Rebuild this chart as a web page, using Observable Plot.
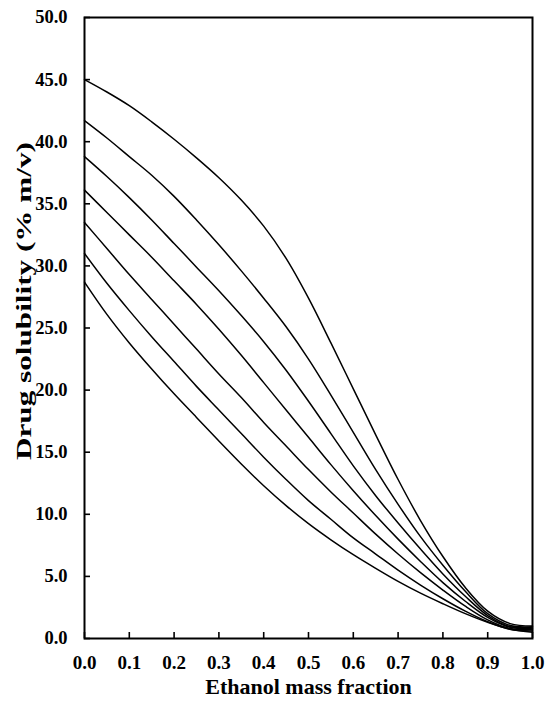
<!DOCTYPE html>
<html>
<head>
<meta charset="utf-8">
<script src="https://cdn.jsdelivr.net/npm/d3@7"></script>
<script src="https://cdn.jsdelivr.net/npm/@observablehq/plot@0.6"></script>
<style>
  html, body { margin: 0; padding: 0; background: #fff; }
  svg, svg text { font-family: "Liberation Serif", "Times New Roman", serif !important; }
</style>
</head>
<body>
<div id="chart"></div>
<script>
const ethanolFraction = [0, 0.05, 0.1, 0.15, 0.2, 0.25, 0.3, 0.35, 0.4, 0.45, 0.5, 0.55, 0.6, 0.65, 0.7, 0.75, 0.8, 0.85, 0.9, 0.95, 1.0];

const curve1 = [45.0, 44.0, 42.9, 41.6, 40.2, 38.7, 37.1, 35.3, 33.2, 30.6, 27.4, 23.8, 20.1, 16.4, 12.8, 9.5, 6.6, 4.1, 2.2, 1.2, 1.0];
const curve2 = [41.7, 40.3, 38.8, 37.3, 35.6, 33.7, 31.7, 29.6, 27.4, 25.1, 22.5, 19.6, 16.6, 13.6, 10.8, 8.2, 5.9, 3.8, 2.0, 1.05, 0.95];
const curve3 = [38.8, 37.2, 35.5, 33.7, 31.8, 29.9, 28.0, 26.0, 23.9, 21.6, 19.1, 16.5, 13.9, 11.5, 9.3, 7.2, 5.2, 3.4, 1.85, 0.95, 0.9];
const curve4 = [36.1, 34.3, 32.5, 30.7, 28.8, 26.9, 24.9, 22.8, 20.6, 18.4, 16.2, 14.0, 11.9, 9.9, 8.0, 6.2, 4.5, 3.0, 1.7, 0.9, 0.8];
const curve5 = [33.5, 31.4, 29.3, 27.3, 25.3, 23.3, 21.3, 19.4, 17.4, 15.5, 13.6, 11.8, 10.1, 8.4, 6.8, 5.3, 3.9, 2.6, 1.5, 0.8, 0.7];
const curve6 = [31.0, 28.6, 26.4, 24.3, 22.3, 20.3, 18.4, 16.5, 14.6, 12.8, 11.1, 9.6, 8.1, 6.8, 5.5, 4.3, 3.2, 2.2, 1.35, 0.75, 0.6];
const curve7 = [28.7, 26.1, 23.8, 21.7, 19.7, 17.8, 15.9, 14.05, 12.3, 10.7, 9.25, 7.95, 6.75, 5.65, 4.6, 3.65, 2.8, 2.0, 1.3, 0.75, 0.5];

const xTicks = [0, 0.1, 0.2, 0.3, 0.4, 0.5, 0.6, 0.7, 0.8, 0.9, 1.0];
const yTicks = [0, 5, 10, 15, 20, 25, 30, 35, 40, 45, 50];
const xTitle = "Ethanol mass fraction";
const yTitle = "Drug solubility (% m/v)";

const allCurves = [curve1, curve2, curve3, curve4, curve5, curve6, curve7];
const rows = [];
allCurves.forEach((vals, i) => {
  vals.forEach((v, j) => rows.push({series: "c" + (i + 1), x: ethanolFraction[j], y: v}));
});

const font = "Liberation Serif";

const chart = Plot.plot({
  width: 550,
  height: 706,
  marginLeft: 84,
  marginRight: 18,
  marginTop: 17,
  marginBottom: 68,
  style: {fontFamily: font, background: "#fff", color: "#000"},
  x: {domain: [0, 1]},
  y: {domain: [0, 50]},
  marks: [
    Plot.line(rows, {x: "x", y: "y", z: "series", stroke: "#000", strokeWidth: 1.5, curve: "catmull-rom"}),
    Plot.axisX(xTicks, {tickSize: -6, strokeWidth: 1.6, tickFormat: () => "", label: null}),
    Plot.axisX(xTicks, {tickSize: 0, tickPadding: 17, tickFormat: d => d.toFixed(1), fontSize: 19, fontWeight: "bold", fontFamily: font, label: null}),
    Plot.axisY(yTicks, {tickSize: -6, strokeWidth: 1.6, tickFormat: () => "", label: null}),
    Plot.axisY(yTicks, {tickSize: 0, tickPadding: 17, tickFormat: d => d.toFixed(1), fontSize: 18.5, fontWeight: "bold", fontFamily: font, label: null}),
    Plot.frame({stroke: "#000", strokeWidth: 2}),
    Plot.text([xTitle], {frameAnchor: "bottom", dy: 55, text: d => d, fontSize: 22, fontWeight: "bold", fontFamily: font}),
    Plot.text([yTitle], {frameAnchor: "left", dx: -60, dy: 132, rotate: -90, textAnchor: "start", text: d => d, fontSize: 20, fontWeight: "bold", fontFamily: font})
  ]
});

// stretch the vertical title to the length it has in the reference
chart.querySelectorAll("text").forEach(t => {
  if (t.textContent === yTitle) {
    t.setAttribute("textLength", 318);
    t.setAttribute("lengthAdjust", "spacingAndGlyphs");
  }
});

document.getElementById("chart").appendChild(chart);
</script>
</body>
</html>
